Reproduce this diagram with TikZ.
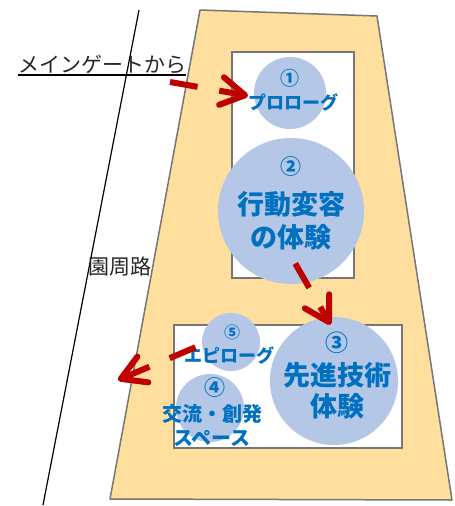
\documentclass[tikz,border=0pt]{standalone}
\usepackage{fontspec}
\setmainfont{Noto Sans CJK JP}
\usetikzlibrary{arrows.meta}
\definecolor{site}{RGB}{255,223,158}
\definecolor{edge}{RGB}{118,118,118}
\definecolor{bubble}{RGB}{180,199,231}
\definecolor{ink}{RGB}{0,112,192}
\definecolor{route}{RGB}{192,0,0}
\definecolor{note}{RGB}{38,38,38}

\begin{document}
\begin{tikzpicture}[
    x=1pt, y=-1pt,
    area/.style={draw=edge, fill=site, line width=1.5pt, line join=round},
    hall/.style={rectangle, draw=edge, fill=white, line width=1.5pt, inner sep=0pt},
    spot/.style={circle, fill=bubble, inner sep=0pt},
    digit/.style={text=ink, inner sep=0pt, font=\bfseries\fontsize{19}{22}\selectfont},
    caption/.style={text=ink, inner sep=0pt, align=center, font=\bfseries\fontsize{18}{22}\selectfont},
    tag/.style={text=note, inner sep=0pt, font=\fontsize{21}{24}\selectfont},
    flow/.style={draw=route, line width=6pt, dash pattern=on 28pt off 22pt, -{Straight Barb[length=24pt, width=28pt, round]}}
]
    \useasboundingbox (0,0) rectangle (455,506);

    % Site and ring road
    \path[area] (200,10) -- (377,16) -- (452,500) -- (110,499) -- cycle;
    \draw[black, line width=1.2pt] (139,10) -- (43,505);

    % Halls
    \node[hall, minimum width=122pt, minimum height=226pt] (front) at (293,165) {};
    \node[hall, minimum width=228pt, minimum height=123pt] (back) at (288,386.5) {};

    % Spots
    \node[spot, minimum size=72pt] (prologue) at (290,93) {};
    \node[spot, minimum size=146pt] (behavior) at (291,211) {};
    \node[spot, minimum size=128pt] (advanced) at (334,381) {};
    \node[spot, minimum size=58pt] (epilogue) at (231,342) {};
    \node[spot, minimum size=68pt] (exchange) at (210,408) {};

    % Spot texts
    \node[digit] (n1) at (290,78) {①};
    \node[caption] (t1) at (293,102) {プロローグ};
    \node[digit, font=\bfseries\fontsize{21}{24}\selectfont] (n2) at (291,167) {②};
    \node[caption, font=\bfseries\fontsize{27}{33}\selectfont] (t2) at (291,221) {行動変容\\の体験};
    \node[digit, font=\bfseries\fontsize{23}{26}\selectfont] (n3) at (337,343) {③};
    \node[caption, font=\bfseries\fontsize{27}{31}\selectfont] (t3) at (337,391) {先進技術\\体験};
    \node[digit, font=\bfseries\fontsize{16}{19}\selectfont] (n5) at (232,332) {⑤};
    \node[caption] (t5) at (229,355) {エピローグ};
    \node[digit, font=\bfseries\fontsize{21}{24}\selectfont] (n4) at (215,388) {④};
    \node[caption, font=\bfseries\fontsize{20}{24}\selectfont] (t4) at (212,425) {交流・創発\\スペース};

    % Labels
    \node[tag, anchor=base west] (gatelabel) at (18,72) {メインゲートから};
    \draw[black, line width=1.2pt] ([yshift=-3pt]gatelabel.base west) -- ([yshift=-3pt]gatelabel.base east);
    \node[tag] (ringroad) at (120,267) {園周路};

    % Route
    \coordinate (gatein) at (170,82);
    \coordinate (exitout) at (118,380);
    \draw[flow, shorten >=6pt] (gatein) -- (prologue.186);
    \draw[flow, shorten <=-22pt, shorten >=-8.6pt] (behavior.-78) -- (advanced.97);
    \draw[flow, shorten <=7pt] (epilogue.185) -- (exitout);

\end{tikzpicture}
\end{document}
